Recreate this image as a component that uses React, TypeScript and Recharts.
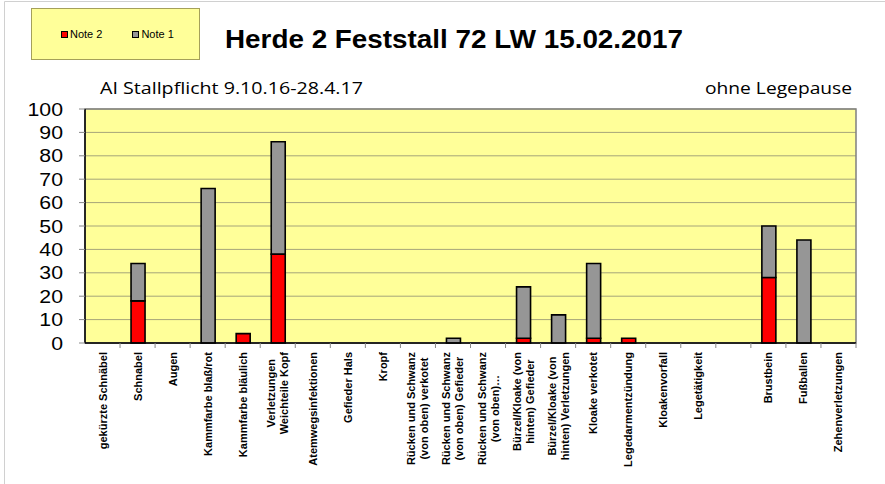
import React from 'react';
import {
  BarChart,
  Bar,
  XAxis,
  YAxis,
  CartesianGrid,
  ReferenceArea
} from 'recharts';

// Kategorien (Zeilenumbruch mit \n wie im Original)
const categories = [
  'gekürzte Schnäbel',
  'Schnabel',
  'Augen',
  'Kammfarbe blaß/rot',
  'Kammfarbe bläulich',
  'Verletzungen\nWeichteile Kopf',
  'Atemwegsinfektionen',
  'Gefieder Hals',
  'Kropf',
  'Rücken und Schwanz\n(von oben) verkotet',
  'Rücken und Schwanz\n(von oben) Gefieder',
  'Rücken und Schwanz\n(von oben)…',
  'Bürzel/Kloake (von\nhinten) Gefieder',
  'Bürzel/Kloake (von\nhinten) Verletzungen',
  'Kloake verkotet',
  'Legedarmentzündung',
  'Kloakenvorfall',
  'Legetätigkeit',
  '',
  'Brustbein',
  'Fußballen',
  'Zehenverletzungen'
];

const note2 = [0, 18, 0, 0, 4, 38, 0, 0, 0, 0, 0, 0, 2, 0, 2, 2, 0, 0, 0, 28, 0, 0];
const note1 = [0, 16, 0, 66, 0, 48, 0, 0, 0, 0, 2, 0, 22, 12, 32, 0, 0, 0, 0, 22, 44, 0];

const yTicks = [0, 10, 20, 30, 40, 50, 60, 70, 80, 90, 100];

const seriesNames = ['Note 2', 'Note 1'];
const seriesColors = ['#FF0000', '#969696'];

const data = categories.map((c, i) => ({ name: c, note2: note2[i], note1: note1[i] }));

const FONT = "'Liberation Sans', Arial, sans-serif";

let ctx: CanvasRenderingContext2D | null = null;
const measure = (s: string) => {
  if (!ctx && typeof document !== 'undefined') {
    ctx = document.createElement('canvas').getContext('2d');
  }
  if (!ctx) return s.length * 6.4;
  ctx.font = `bold 11px ${FONT}`;
  return ctx.measureText(s).width;
};

const CategoryTick = (props: any) => {
  const { x, y, payload } = props;
  const lines = String(payload.value).split('\n');
  const maxW = Math.max(...lines.map(measure));
  const cy = y + maxW / 2;
  const half = payload.offset ? payload.offset : 17.5;
  const lh = 13;
  return (
    <g>
      <line x1={x + half} x2={x + half} y1={y - 9} y2={y - 4} stroke="#888" />
      {lines.map((l, i) => {
        const lx = x + (i - (lines.length - 1) / 2) * lh;
        return (
          <text
            key={i}
            x={lx}
            y={cy}
            transform={`rotate(-90, ${lx}, ${cy})`}
            textAnchor="middle"
            dominantBaseline="central"
            fontFamily={FONT}
            fontWeight="bold"
            fontSize={11}
            fill="#000"
          >
            {l}
          </text>
        );
      })}
    </g>
  );
};

// Y-Beschriftung etwas breiter, wie im Original
const ValueTick = (props: any) => {
  const { x, y, payload } = props;
  return (
    <text
      transform={`translate(${x}, ${y}) scale(1.12, 1)`}
      textAnchor="end"
      dominantBaseline="central"
      fontFamily={FONT}
      fontSize={19}
      fill="#000"
    >
      {payload.value}
    </text>
  );
};

const LegendBox = () => (
  <div
    style={{
      position: 'absolute',
      left: 31,
      top: 8,
      width: 169,
      height: 52,
      boxSizing: 'border-box',
      background: '#FFFF99',
      border: '1px solid #A5A05A',
      display: 'flex',
      alignItems: 'center',
      fontFamily: FONT,
      fontSize: 11
    }}
  >
    {seriesNames.map((n, i) => (
      <div
        key={n}
        style={{ display: 'flex', alignItems: 'center', marginLeft: i === 0 ? 29 : 30 }}
      >
        <span
          style={{
            display: 'inline-block',
            width: 5,
            height: 5,
            background: seriesColors[i],
            border: '1px solid #000',
            marginRight: 2
          }}
        />
        {n}
      </div>
    ))}
  </div>
);

export default function App() {
  return (
    <div style={{ position: 'absolute', left: 0, top: 0, width: 885, height: 484, background: '#fff' }}>
      <BarChart
        width={885}
        height={484}
        data={data}
        margin={{ top: 109, right: 29, left: 0, bottom: 11 }}
        barSize={14}
      >
        <CartesianGrid vertical={false} fill="#FFFF99" stroke="#A6A57A" strokeOpacity={1} />
        <ReferenceArea y1={0} y2={100} fill="none" stroke="#808080" strokeWidth={1.5} />
        <XAxis
          dataKey="name"
          interval={0}
          height={130}
          tickSize={5}
          tickMargin={4}
          tickLine={false}
          axisLine={{ stroke: '#000', strokeWidth: 1.5 }}
          tick={<CategoryTick />}
        />
        <YAxis
          width={85}
          domain={[0, 100]}
          ticks={yTicks}
          interval={0}
          tickSize={6}
          tickMargin={16}
          axisLine={{ stroke: '#000', strokeWidth: 1.5 }}
          tickLine={{ stroke: '#888' }}
          tick={<ValueTick />}
        />
        <Bar dataKey="note2" name="Note 2" stackId="a" fill={seriesColors[0]} stroke="#000" strokeWidth={1.6} isAnimationActive={false} />
        <Bar dataKey="note1" name="Note 1" stackId="a" fill={seriesColors[1]} stroke="#000" strokeWidth={1.6} isAnimationActive={false} />
      </BarChart>
      <LegendBox />
      <svg width={885} height={484} style={{ position: 'absolute', left: 0, top: 0, pointerEvents: 'none' }}>
        <line x1={4.5} y1={1.5} x2={885} y2={1.5} stroke="#D0D0D0" />
        <line x1={4.5} y1={1.5} x2={4.5} y2={484} stroke="#D0D0D0" />
        <text x={225} y={48} fontFamily={FONT} fontWeight="bold" fontSize={25} fill="#000" textLength={458} lengthAdjust="spacingAndGlyphs">
          Herde 2 Feststall 72 LW 15.02.2017
        </text>
        <text x={100} y={94} fontFamily="'Open Sans', 'Noto Sans', sans-serif" fontSize={17} fill="#000" textLength={263} lengthAdjust="spacingAndGlyphs">
          AI Stallpflicht 9.10.16-28.4.17
        </text>
        <text x={705} y={94} fontFamily="'Open Sans', 'Noto Sans', sans-serif" fontSize={17} fill="#000" textLength={147} lengthAdjust="spacingAndGlyphs">
          ohne Legepause
        </text>
      </svg>
    </div>
  );
}
